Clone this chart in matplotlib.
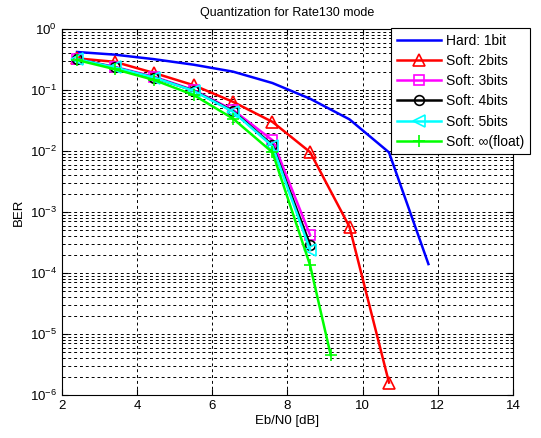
import matplotlib
matplotlib.use("Agg")
import matplotlib.pyplot as plt
from matplotlib.ticker import LogLocator, NullFormatter, FixedLocator

plt.rcParams['font.family'] = ['Liberation Sans', 'DejaVu Sans']

ebn0 = [2.4, 3.4, 4.45, 5.5, 6.55, 7.6, 8.6, 9.65, 10.7, 11.75]
hard_1bit = [0.42, 0.38, 0.32, 0.26, 0.20, 0.13, 0.072, 0.033, 0.0095, 1.4e-4]

ebn0_2 = [2.4, 3.4, 4.45, 5.5, 6.55, 7.6, 8.6, 9.65, 10.7]
soft_2bits = [0.33, 0.29, 0.19, 0.12, 0.064, 0.030, 0.0096, 5.7e-4, 1.6e-6]

ebn0_345 = [2.4, 3.4, 4.45, 5.5, 6.55, 7.6, 8.6]
soft_3bits = [0.32, 0.24, 0.165, 0.10, 0.047, 0.015, 4.2e-4]
soft_4bits = [0.32, 0.235, 0.16, 0.098, 0.045, 0.0125, 2.9e-4]
soft_5bits = [0.32, 0.235, 0.16, 0.097, 0.044, 0.0120, 2.4e-4]

ebn0_f = [2.4, 3.4, 4.45, 5.5, 6.55, 7.6, 8.6, 9.15]
soft_float = [0.31, 0.22, 0.146, 0.083, 0.034, 0.0095, 1.35e-4, 4.5e-6]

labels = ["Hard: 1bit", "Soft: 2bits", "Soft: 3bits", "Soft: 4bits",
          "Soft: 5bits", "Soft: \u221e(float)"]
xticks = [2, 4, 6, 8, 10, 12, 14]
yticks = [1e-6, 1e-5, 1e-4, 1e-3, 1e-2, 1e-1, 1e0]

fig = plt.figure(figsize=(5.41, 4.38), dpi=100)
ax = fig.add_axes([62/541, 1-395/438, (513-62)/541, (395-29)/438])

lw = 1.8
ax.semilogy(ebn0, hard_1bit, color='#0000ff', lw=lw, label=labels[0])
ax.semilogy(ebn0_2, soft_2bits, color='#ff0000', lw=lw, marker='^', ms=8,
            mfc='none', mew=1.2, label=labels[1])
ax.semilogy(ebn0_345, soft_3bits, color='#ff00ff', lw=lw, marker='s', ms=7,
            mfc='none', mew=1.2, label=labels[2])
ax.semilogy(ebn0_345, soft_4bits, color='black', lw=lw, marker='o', ms=7,
            mfc='none', mew=1.2, label=labels[3])
ax.semilogy(ebn0_345, soft_5bits, color='#00ffff', lw=lw, marker='<', ms=8,
            mfc='none', mew=1.2, label=labels[4])
ax.semilogy(ebn0_f, soft_float, color='#00ff00', lw=lw, marker='+', ms=8,
            mew=1.2, label=labels[5])

ax.set_xlim(2, 14)
ax.set_ylim(1e-6, 1)
ax.xaxis.set_major_locator(FixedLocator(xticks))
ax.yaxis.set_major_locator(FixedLocator(yticks))
ax.yaxis.set_minor_locator(LogLocator(base=10, subs=range(2, 10), numticks=20))
ax.yaxis.set_minor_formatter(NullFormatter())
ax.tick_params(which='both', direction='in', top=True, right=True, labelsize=9.5)
ax.tick_params(which='major', length=4)
ax.tick_params(which='minor', length=2)
ax.grid(True, which='major', color='black', linestyle=(0, (3, 3)), lw=0.7)
ax.grid(True, which='minor', axis='y', color='black', linestyle=(0, (3, 3)), lw=0.7)

fig.text((62 + 513) / 2 / 541, 1 - 13/438, "Quantization for Rate130 mode",
         fontsize=9, ha='center', va='center')
ax.set_xlabel("Eb/N0 [dB]", fontsize=9.5, labelpad=2)
ax.set_ylabel("BER", fontsize=9.5)

leg = ax.legend(loc='upper right', bbox_to_anchor=(530/541, 1-28/438),
                bbox_transform=fig.transFigure,
                fontsize=10, fancybox=False, framealpha=1,
                edgecolor='black', handlelength=3.2, borderaxespad=0,
                labelspacing=0.45, handletextpad=0.35, borderpad=0.4)
leg.get_frame().set_linewidth(0.8)

fig.savefig("out.png", dpi=100)
